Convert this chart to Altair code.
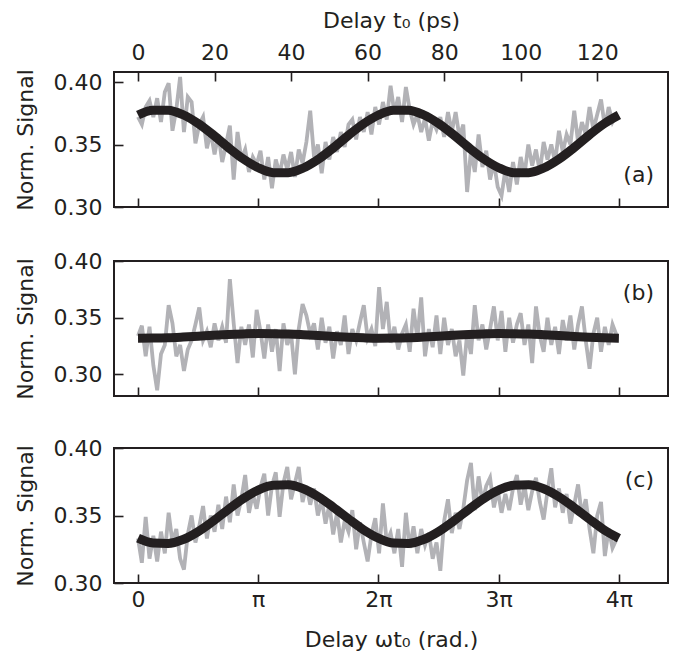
import math
import altair as alt
import pandas as pd

# ---------------- data ----------------
delay_ps = list(range(126))                 # delay t0 in ps (1 ps steps)
omega = 0.1                                 # rad / ps  -> 4*pi rad = 125.7 ps
phase_rad = [p * omega for p in delay_ps]

signal_a = [0.372, 0.366, 0.380, 0.385, 0.372, 0.387, 0.368, 0.392, 0.399, 0.361,
            0.378, 0.404, 0.360, 0.388, 0.384, 0.351, 0.366, 0.372, 0.347, 0.360,
            0.342, 0.358, 0.336, 0.350, 0.365, 0.322, 0.360, 0.338, 0.346, 0.328,
            0.340, 0.334, 0.345, 0.322, 0.340, 0.315, 0.338, 0.326, 0.342, 0.330,
            0.344, 0.324, 0.346, 0.335, 0.352, 0.377, 0.340, 0.350, 0.327, 0.352,
            0.338, 0.356, 0.344, 0.360, 0.348, 0.366, 0.370, 0.354, 0.372, 0.360,
            0.376, 0.358, 0.380, 0.366, 0.384, 0.370, 0.397, 0.375, 0.388, 0.368,
            0.396, 0.378, 0.366, 0.374, 0.360, 0.371, 0.353, 0.369, 0.362, 0.372,
            0.356, 0.376, 0.360, 0.376, 0.356, 0.366, 0.312, 0.345, 0.328, 0.358,
            0.332, 0.345, 0.322, 0.336, 0.316, 0.309, 0.330, 0.312, 0.336, 0.318,
            0.340, 0.326, 0.350, 0.333, 0.346, 0.328, 0.352, 0.338, 0.350, 0.336,
            0.361, 0.344, 0.358, 0.350, 0.377, 0.352, 0.368, 0.358, 0.380, 0.362,
            0.374, 0.386, 0.364, 0.380, 0.368, 0.374]

signal_b = [0.334, 0.343, 0.316, 0.342, 0.308, 0.286, 0.318, 0.326, 0.361, 0.345,
            0.316, 0.326, 0.303, 0.322, 0.330, 0.344, 0.359, 0.330, 0.338, 0.324,
            0.345, 0.330, 0.342, 0.328, 0.384, 0.345, 0.310, 0.342, 0.326, 0.344,
            0.315, 0.357, 0.338, 0.314, 0.344, 0.320, 0.340, 0.303, 0.345, 0.326,
            0.336, 0.300, 0.340, 0.362, 0.352, 0.336, 0.345, 0.322, 0.350, 0.328,
            0.342, 0.314, 0.338, 0.326, 0.352, 0.318, 0.340, 0.330, 0.346, 0.361,
            0.332, 0.340, 0.325, 0.377, 0.340, 0.364, 0.328, 0.342, 0.322, 0.336,
            0.344, 0.320, 0.358, 0.332, 0.368, 0.316, 0.340, 0.324, 0.352, 0.318,
            0.350, 0.326, 0.340, 0.316, 0.330, 0.299, 0.336, 0.318, 0.361, 0.330,
            0.344, 0.322, 0.340, 0.360, 0.330, 0.356, 0.320, 0.350, 0.328, 0.344,
            0.354, 0.326, 0.344, 0.310, 0.360, 0.334, 0.320, 0.350, 0.326, 0.342,
            0.318, 0.348, 0.330, 0.352, 0.322, 0.344, 0.360, 0.330, 0.305, 0.336,
            0.350, 0.320, 0.342, 0.326, 0.344, 0.335]

signal_c = [0.333, 0.315, 0.349, 0.318, 0.335, 0.316, 0.338, 0.322, 0.352, 0.330,
            0.340, 0.318, 0.310, 0.336, 0.350, 0.330, 0.342, 0.357, 0.333, 0.350,
            0.338, 0.358, 0.340, 0.364, 0.345, 0.373, 0.350, 0.362, 0.380, 0.352,
            0.366, 0.355, 0.371, 0.381, 0.350, 0.372, 0.382, 0.349, 0.374, 0.386,
            0.362, 0.374, 0.386, 0.360, 0.372, 0.358, 0.370, 0.350, 0.362, 0.344,
            0.358, 0.336, 0.352, 0.330, 0.346, 0.338, 0.354, 0.325, 0.345, 0.330,
            0.316, 0.336, 0.348, 0.322, 0.359, 0.330, 0.337, 0.322, 0.340, 0.312,
            0.352, 0.326, 0.342, 0.322, 0.340, 0.328, 0.337, 0.318, 0.330, 0.309,
            0.346, 0.362, 0.337, 0.352, 0.340, 0.355, 0.376, 0.389, 0.354, 0.379,
            0.360, 0.372, 0.378, 0.356, 0.369, 0.352, 0.366, 0.354, 0.370, 0.380,
            0.358, 0.372, 0.354, 0.368, 0.378, 0.360, 0.347, 0.368, 0.385, 0.356,
            0.370, 0.352, 0.366, 0.344, 0.358, 0.373, 0.350, 0.362, 0.340, 0.322,
            0.350, 0.360, 0.320, 0.340, 0.326, 0.332]

# fitted curves sampled every pi/8 rad
fit_rad = [k * math.pi / 8 for k in range(33)]
fit_a = [0.3736, 0.3775, 0.3775, 0.3738, 0.3668, 0.3577, 0.3477, 0.3385, 0.3314,
         0.3275, 0.3275, 0.3312, 0.3382, 0.3473, 0.3573, 0.3665, 0.3736,
         0.3775, 0.3775, 0.3738, 0.3668, 0.3577, 0.3477, 0.3385, 0.3314,
         0.3275, 0.3275, 0.3312, 0.3382, 0.3473, 0.3573, 0.3665, 0.3736]
fit_b = [0.3320, 0.3321, 0.3324, 0.3330, 0.3337, 0.3345, 0.3352, 0.3357, 0.3360,
         0.3359, 0.3356, 0.3350, 0.3343, 0.3335, 0.3328, 0.3323, 0.3320,
         0.3321, 0.3324, 0.3330, 0.3337, 0.3345, 0.3352, 0.3357, 0.3360,
         0.3359, 0.3356, 0.3350, 0.3343, 0.3335, 0.3328, 0.3323, 0.3320]
fit_c = [0.3332, 0.3296, 0.3293, 0.3322, 0.3381, 0.3459, 0.3544, 0.3625, 0.3688,
         0.3724, 0.3727, 0.3698, 0.3639, 0.3561, 0.3476, 0.3395, 0.3332,
         0.3296, 0.3293, 0.3322, 0.3381, 0.3459, 0.3544, 0.3625, 0.3688,
         0.3724, 0.3727, 0.3698, 0.3639, 0.3561, 0.3476, 0.3395, 0.3332]

rad_ticks = [0, math.pi, 2 * math.pi, 3 * math.pi, 4 * math.pi]
ps_ticks = [0, 20, 40, 60, 80, 100, 120]
y_ticks = [0.30, 0.35, 0.40]
panel_labels = ["(a)", "(b)", "(c)"]

# ---------------- styling ----------------
W, H = 554, 135
INK = "#231f20"
GRAY = "#b2b2b6"
FONT = "DejaVu Sans"
X_DOMAIN = [-0.628, 13.85]

pi_expr = ("datum.value < 0.1 ? '0' : (round(datum.value / PI) == 1 ? 'π' : "
           "round(datum.value / PI) + 'π')")


def panel(signal, fit, ydom, label, label_y, top_axis, bottom_labels):
    df_sig = pd.DataFrame({"x": phase_rad, "y": signal})
    df_fit = pd.DataFrame({"x": fit_rad, "y": fit})
    xscale = alt.Scale(domain=X_DOMAIN, nice=False, zero=False)
    yscale = alt.Scale(domain=ydom, nice=False, zero=False)

    if bottom_labels:
        bax = alt.Axis(orient="bottom", values=rad_ticks, offset=-9, tickSize=9,
                       domain=False, grid=False, labelExpr=pi_expr,
                       labelPadding=6, labelFlush=False,
                       title="Delay ωt₀ (rad.)", titlePadding=19)
    else:
        bax = alt.Axis(orient="bottom", values=rad_ticks, offset=-9, tickSize=9,
                       domain=False, grid=False, labels=False, title=None)

    yax = alt.Axis(values=y_ticks, format=".2f", offset=-9, tickSize=9,
                   domain=False, grid=False, labelPadding=12, labelFlush=False,
                   title="Norm. Signal", titlePadding=16)

    sig = alt.Chart(df_sig).mark_line(color=GRAY, strokeWidth=3.8).encode(
        x=alt.X("x:Q", scale=xscale, axis=bax),
        y=alt.Y("y:Q", scale=yscale, axis=yax),
    )

    if top_axis:
        tax = alt.Axis(orient="top", values=[p * omega for p in ps_ticks],
                       offset=-9, tickSize=9, domain=False, grid=False,
                       labelExpr="format(datum.value * 10, 'd')", labelPadding=8,
                       labelFlush=False, title="Delay t₀ (ps)", titlePadding=9)
        fx = alt.X("x:Q", scale=xscale, axis=tax)
    else:
        fx = alt.X("x:Q", scale=xscale, axis=None)

    fitline = alt.Chart(df_fit).mark_line(color=INK, strokeWidth=9,
                                          interpolate="monotone").encode(
        x=fx,
        y=alt.Y("y:Q", scale=yscale, axis=None),
    )

    txt = alt.Chart(pd.DataFrame({"t": [label]})).mark_text(
        font=FONT, fontSize=22, color=INK, align="right", baseline="middle"
    ).encode(text="t:N", x=alt.value(W - 14), y=alt.value(label_y))

    return alt.layer(sig, fitline, txt).resolve_axis(
        x="independent", y="independent"
    ).properties(width=W, height=H)


pa = panel(signal_a, fit_a, [0.30, 0.408], panel_labels[0], 103, True, False)
pb = panel(signal_b, fit_b, [0.281, 0.40], panel_labels[1], 32, False, False)
pc = panel(signal_c, fit_c, [0.30, 0.40], panel_labels[2], 32, False, True)

top_pair = alt.vconcat(pa, pb, spacing=30)
chart = alt.vconcat(top_pair, pc, spacing=35).properties(
    padding={"left": 5, "top": 0, "right": 0, "bottom": 0}
).configure_axis(
    labelFont=FONT, titleFont=FONT, labelFontSize=22, titleFontSize=22,
    titleFontWeight="normal", labelColor=INK, titleColor=INK,
    tickColor=INK, tickWidth=1.6,
).configure_view(stroke=INK, strokeWidth=2)

chart.save("out.html", embed_options={"renderer": "svg", "actions": False})
